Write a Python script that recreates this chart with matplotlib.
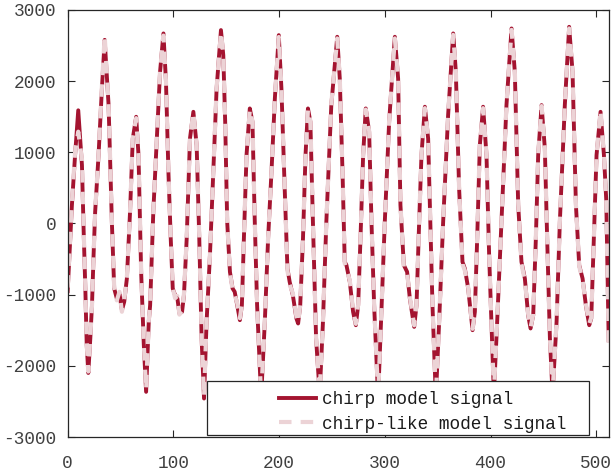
import matplotlib
matplotlib.use("Agg")
import matplotlib.pyplot as plt
from matplotlib.patches import Rectangle

# points (sample index, amplitude)
sample = [0, 4, 7, 10, 13.5, 15.1, 16.7, 18, 19.5, 21.4, 23, 24.5, 26, 29.2, 32.4, 35,
          38.7, 41.8, 44, 46.5, 49, 51.3, 53.5, 56, 59, 61.6, 64.8, 67, 69.5, 72, 74.2,
          76.7, 78, 81, 84, 87.4, 90.6, 93, 95.3, 97.5, 99.4, 101.6, 103.8, 105.7, 108.2,
          110, 112.6, 115.7, 118.9, 122, 124.5, 126.7, 129, 131.4, 134.6, 137.7, 140.9,
          145, 147.2, 149, 150.9, 153.5, 156, 158, 160.4, 162.9, 164.8, 166.7, 169.2,
          172.3, 174.8, 177, 179.2, 183, 186.5, 189.6, 192.8, 196, 199.7, 202.2, 205.3,
          207.9, 210, 213, 216.4, 218, 220, 222.6, 225, 227.3, 229.6, 232, 235, 238.4,
          241.5, 244.7, 249.4, 255, 257.4, 260, 262.1, 263.7, 266.9, 270, 272.6, 274.8,
          277, 279.5, 282, 285.2, 287.4, 289.9, 293.7, 296.8, 300, 304.1, 309.5, 312.6,
          314.8, 318, 321.1, 323.7, 327.8, 330, 332.5, 334.7, 337.9, 341, 342.6, 345.1,
          348.3, 351.4, 355.2, 359.9, 364.7, 367.2, 370.3, 373.5, 375.7, 378.9, 383,
          385.2, 387.4, 389.9, 393, 396.2, 398.7, 403.2, 406.3, 410.4, 415.1, 419.9, 423,
          426.2, 429.3, 432.5, 435.6, 437.9, 440.4, 442.9, 445.1, 448.3, 451.4, 453.6,
          456.2, 458.7, 462.5, 465.6, 470.3, 474.4, 477.6, 480.8, 483.9, 487.1, 490.2,
          493.4, 495.3, 497.8, 500.3, 504.1, 507.3, 509.5, 511.8]

chirp = [-950, 258, 960, 1590, 820, -100, -913, -1700, -2100, -1616, -1148, -445, 164,
         960, 1897, 2580, 1663, 23, -913, -1054, -984, -1218, -1100, -773, 164, 1194,
         1499, 960, -680, -1700, -2365, -1382, -1148, 164, 1100, 2131, 2670, 1990, 726,
         -211, -913, -1007, -1054, -1265, -1241, -1007, -211, 1194, 1569, 1100, -211,
         -1616, -2459, -1382, -445, 726, 1897, 2717, 2365, 1429, 23, -680, -913, -960,
         -1148, -1358, -1148, -211, 960, 1616, 1429, 23, -1148, -2450, -1382, -211, 726,
         1757, 2646, 1897, 492, -632, -820, -1007, -1335, -1405, -1148, -211, 960, 1616,
         1429, 23, -1616, -2400, -1382, 23, 1663, 2623, 2037, 726, -539, -585, -820,
         -1241, -1429, -1148, -211, 960, 1616, 1288, 23, -1148, -2450, -1241, 23, 1429,
         2623, 2037, 258, -585, -679, -1054, -1452, -1148, 23, 960, 1640, 1194, 258,
         -1148, -2450, -1382, 23, 1522, 2670, 2131, 492, -539, -632, -913, -1499, -1241,
         -211, 1100, 1640, 960, -445, -2400, -1382, 23, 1663, 2740, 2131, 258, -539,
         -773, -1288, -1475, -1288, -211, 960, 1663, 1054, -211, -1616, -2400, -1382,
         23, 1663, 2763, 2131, 258, -585, -773, -1148, -1429, -1335, -211, 960, 1569,
         960, 330, -1640]

chirp_like = [-900, 300, 1000, 1290, 900, -60, -900, -1680, -2080, -1600, -1150, -440,
              170, 980, 1930, 2640, 1680, 30, -900, -1080, -960, -1240, -1080, -760, 170,
              1200, 1480, 970, -670, -1690, -2330, -1370, -1140, 170, 1110, 2150, 2640,
              2000, 730, -200, -900, -1050, -1020, -1280, -1230, -990, -200, 1200, 1560,
              1110, -200, -1600, -2430, -1370, -440, 730, 1910, 2690, 2380, 1440, 30, -690,
              -930, -1000, -1120, -1330, -1140, -200, 970, 1600, 1440, 30, -1140, -2430,
              -1370, -200, 730, 1770, 2620, 1910, 500, -660, -860, -980, -1310, -1390,
              -1140, -200, 970, 1600, 1440, 30, -1600, -2380, -1370, 30, 1680, 2600, 2050,
              730, -560, -640, -800, -1220, -1410, -1140, -200, 970, 1600, 1300, 30, -1140,
              -2430, -1230, 30, 1440, 2600, 2050, 270, -620, -700, -1030, -1430, -1140, 30,
              970, 1620, 1210, 270, -1140, -2430, -1370, 30, 1530, 2650, 2150, 500, -570,
              -660, -900, -1480, -1230, -200, 1110, 1620, 970, -440, -2380, -1370, 30,
              1680, 2720, 2150, 270, -570, -800, -1270, -1460, -1280, -200, 970, 1650,
              1060, -200, -1600, -2380, -1370, 30, 1680, 2740, 2150, 270, -600, -800,
              -1130, -1410, -1320, -200, 970, 1590, 970, 320, -1700]

x_ticks = [0, 100, 200, 300, 400, 500]
y_ticks = [-3000, -2000, -1000, 0, 1000, 2000, 3000]

plt.rcParams['font.family'] = ['Liberation Mono', 'DejaVu Sans Mono']
plt.rcParams['axes.unicode_minus'] = False

fig = plt.figure(figsize=(6.13, 4.74), dpi=100)
ax = fig.add_axes([0.1104, 0.078, 0.8836, 0.901])

ax.plot(sample, chirp, color='#a41430', lw=2.8, solid_joinstyle='round',
        label='chirp model signal')
ax.plot(sample, chirp_like, color='#ecd3d6', lw=3.0, linestyle=(0, (3, 2.2)),
        label='chirp-like model signal')

ax.set_xlim(0, 512.4)
ax.set_ylim(-3000, 3000)
ax.set_xticks(x_ticks)
ax.set_yticks(y_ticks)
ax.tick_params(direction='in', top=True, right=True, length=5, width=0.8,
               labelsize=12.8, labelcolor='#404040', color='#262626')
ax.tick_params(axis='x', pad=13)
ax.tick_params(axis='y', pad=8)
for s in ax.spines.values():
    s.set_color('#262626')
    s.set_linewidth(0.9)

# legend box is wider than its contents, as in the reference
box = Rectangle((0.258, 0.004), 0.705, 0.127, transform=ax.transAxes,
                facecolor='white', edgecolor='#262626', lw=0.9, zorder=4)
ax.add_patch(box)
leg = ax.legend(loc='center left', bbox_to_anchor=(0.39, 0.059), frameon=False,
                fontsize=12.8, handlelength=2.1, borderpad=0, borderaxespad=0,
                labelspacing=0.42, handletextpad=0.3)
leg.set_zorder(5)
for t in leg.get_texts():
    t.set_color('#1a1a1a')

fig.savefig('out.png', dpi=100)
